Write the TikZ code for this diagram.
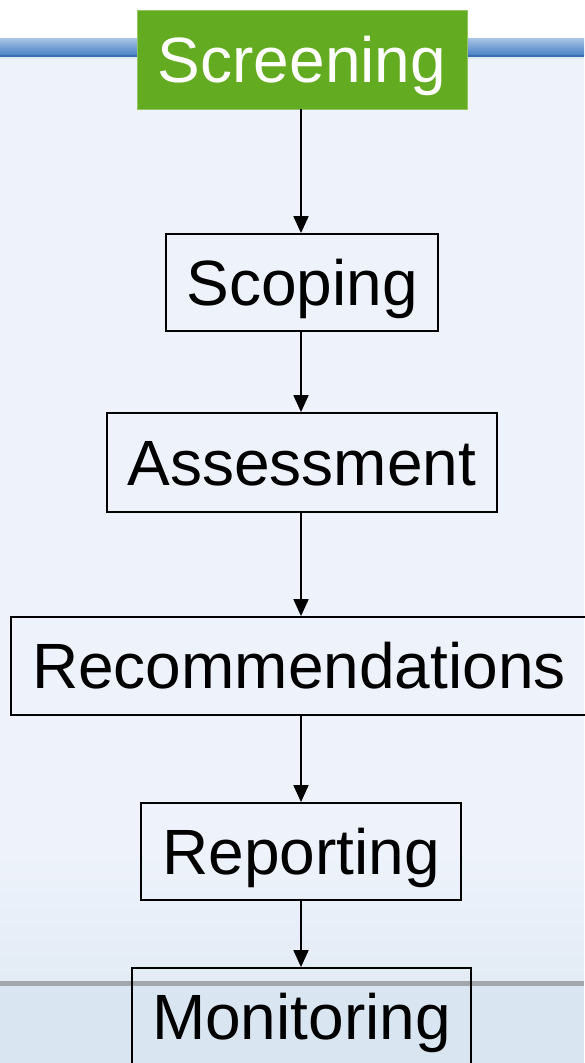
\documentclass[tikz,border=0pt]{standalone}
\usepackage{fontspec}
\setmainfont{Liberation Sans}
\usepackage{tikz}
\usepackage{xcolor}
\usetikzlibrary{arrows.meta}

\definecolor{bandtop}{HTML}{A9C5E5}
\definecolor{bandbot}{HTML}{4A82C4}
\definecolor{bandline}{HTML}{3A70B2}
\definecolor{paper}{HTML}{EEF3FB}
\definecolor{paperlow}{HTML}{E3EBF5}
\definecolor{footer}{HTML}{D9E6F2}
\definecolor{rule}{HTML}{A3A7AB}
\definecolor{leaf}{HTML}{63AB21}

\tikzset{
  stage/.style={draw=black, line width=1.8pt, inner sep=0pt,
    text height=45pt, text depth=0pt,
    font=\fontsize{64}{70}\selectfont},
  flow/.style={line width=1.8pt, -{Triangle[length=17pt,width=15pt]}}
}

\begin{document}
\begin{tikzpicture}[x=1pt,y=-1pt]
        \useasboundingbox (0,0) rectangle (584,1063);

        % background
        \fill[white] (0,0) rectangle (584,1063);
        \shade[top color=paper, bottom color=paper] (0,58) rectangle (584,850);
        \shade[top color=paper, bottom color=paperlow] (0,850) rectangle (584,981);
        \shade[top color=bandtop, bottom color=bandbot] (0,38) rectangle (584,55);
        \fill[bandline] (0,55) rectangle (584,57);
        \fill[white!60!bandtop] (0,57) rectangle (584,59);
        \fill[rule] (0,981) rectangle (584,986);
        \fill[footer] (0,986) rectangle (584,1063);

        % stages
        \node[stage, fill=leaf, draw=leaf!70!white, line width=0.8pt, text=white,
              minimum width=330pt, minimum height=99pt] (scr) at (302,59.5) {Screening};
        \node[stage, minimum width=272pt, minimum height=97pt] (scp) at (302,282.5) {Scoping};
        \node[stage, minimum width=390pt, minimum height=99pt] (ass) at (302,462.5) {Assessment};
        \node[stage, minimum width=576pt, minimum height=98pt] (rec) at (299,666) {Recommendations};
        \node[stage, minimum width=320pt, minimum height=97pt] (rep) at (301,851.5) {Reporting};
        \node[stage, minimum width=339pt, minimum height=98pt] (mon) at (301.5,1017) {Monitoring};

        \foreach \a/\b in {scr/scp,scp/ass,ass/rec,rec/rep,rep/mon}
            \draw[flow] (\a.south -| rep) -- (\b.north -| rep);
    \end{tikzpicture}
\end{document}
